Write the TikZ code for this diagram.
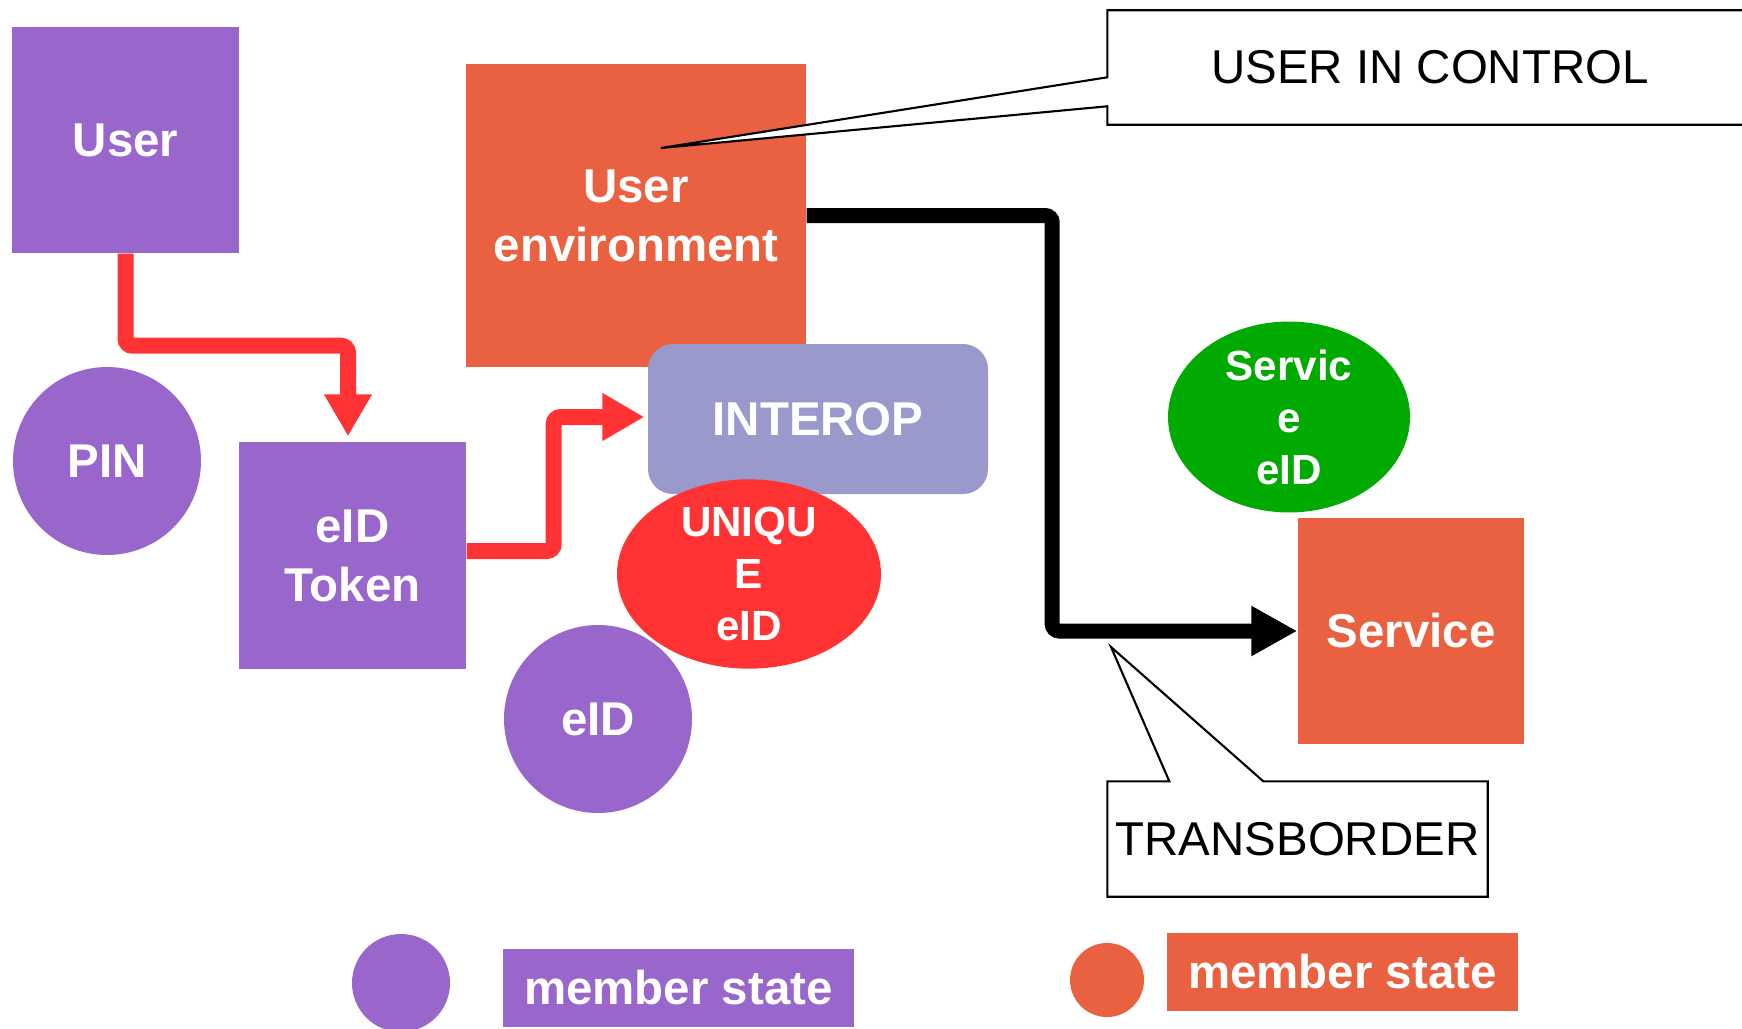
\documentclass[tikz,border=0pt]{standalone}
\usepackage{fontspec}
\setmainfont{Liberation Sans}
\usetikzlibrary{arrows.meta,shapes.geometric,calc}

\definecolor{msPurple}{RGB}{153,102,204}
\definecolor{msOrange}{RGB}{233,97,64}
\definecolor{msLavender}{RGB}{153,153,204}
\definecolor{msRed}{RGB}{255,51,51}
\definecolor{msGreen}{RGB}{0,170,0}

\begin{document}
\begin{tikzpicture}[
    blockbox/.style={rectangle, inner sep=0pt, text=white, align=center,
      font=\fontsize{13.5}{16.8}\selectfont\bfseries},
    roundbox/.style={circle, inner sep=0pt, text=white, align=center,
      font=\fontsize{13.5}{16.8}\selectfont\bfseries},
    ovalbox/.style={ellipse, inner sep=0pt, text=white, align=center,
      font=\fontsize{12}{14.8}\selectfont\bfseries},
    calloutbox/.style={rectangle, inner sep=0pt, align=center,
      font=\fontsize{13.5}{16.8}\selectfont},
    calloutline/.style={draw=black, fill=white, line width=0.6pt},
    redflow/.style={draw=msRed, line width=0.16cm, rounded corners=2pt,
      -{Triangle[length=0.42cm, width=0.45cm]}},
    blackflow/.style={draw=black, line width=0.15cm, rounded corners=2pt,
      -{Triangle[length=0.46cm, width=0.47cm]}}
  ]
    \useasboundingbox (0,0) rectangle (17.42,-10.28);

    % Main blocks
    \node[blockbox, fill=msPurple, minimum width=2.27cm, minimum height=2.26cm] (user) at (1.255,-1.40) {User};
    \node[blockbox, fill=msOrange, minimum width=3.40cm, minimum height=3.03cm] (userenv) at (6.36,-2.155) {User\\environment};
    \node[blockbox, fill=msLavender, rounded corners=0.25cm, minimum width=3.40cm, minimum height=1.50cm] (interop) at (8.18,-4.19) {INTEROP};
    \node[ovalbox, fill=msRed, minimum width=2.64cm, minimum height=1.88cm] (unique) at (7.49,-5.74) {UNIQU\\E\\eID};
    \node[roundbox, fill=msPurple, minimum size=1.88cm] (pin) at (1.07,-4.61) {PIN};
    \node[blockbox, fill=msPurple, minimum width=2.27cm, minimum height=2.27cm] (token) at (3.525,-5.555) {eID\\Token};
    \node[roundbox, fill=msPurple, minimum size=1.88cm] (eid) at (5.98,-7.19) {eID};
    \node[ovalbox, fill=msGreen, minimum width=2.42cm, minimum height=1.88cm] (serviceeid) at (12.89,-4.17) {Servic\\e\\eID};
    \node[blockbox, fill=msOrange, minimum width=2.26cm, minimum height=2.26cm] (service) at (14.11,-6.31) {Service};

    % Red flows
    \draw[redflow] (user.south) -- ++(0,-0.92) -| ([xshift=-0.045cm, yshift=0.05cm]token.north);
    \draw[redflow] ([yshift=0.045cm]token.east) -- ++(0.87,0) |- ([xshift=-0.03cm, yshift=0.02cm]interop.west);

    % Black flow to the service
    \draw[blackflow] (userenv.east) -- ++(2.455,0) |- (service.west);

    % Callout: user in control
    \node[calloutbox, minimum width=6.44cm, minimum height=1.13cm] (uic) at (14.30,-0.675) {};
    \coordinate (uictip) at (6.61,-1.48);
    \filldraw[calloutline] (uic.north east) -- (uic.north west) -- ($(uic.north west)+(0,-0.67)$)
      -- (uictip) -- ($(uic.north west)+(0,-0.96)$) -- (uic.south west) -- (uic.south east);
    \node[calloutbox] (uictext) at (uic.center) {USER IN CONTROL};

    % Callout: transborder
    \node[calloutbox, minimum width=3.79cm, minimum height=1.14cm] (tb) at (12.975,-8.39) {};
    \coordinate (tbtip) at (11.11,-6.47);
    \filldraw[calloutline] (tb.north west) -- ($(tb.north west)+(0.62,0)$) -- (tbtip)
      -- ($(tb.north west)+(1.56,0)$) -- (tb.north east) -- (tb.south east) -- (tb.south west) -- cycle;
    \node[calloutbox] (tbtext) at (tb.center) {TRANSBORDER};

    % Legend
    \node[circle, fill=msPurple, minimum size=0.98cm, inner sep=0pt] (legpurple) at (4.01,-9.83) {};
    \node[blockbox, fill=msPurple, minimum width=3.51cm, minimum height=0.78cm] (legpurpletext) at (6.785,-9.88) {member state};
    \node[circle, fill=msOrange, minimum size=0.74cm, inner sep=0pt] (legorange) at (11.07,-9.80) {};
    \node[blockbox, fill=msOrange, minimum width=3.51cm, minimum height=0.78cm] (legorangetext) at (13.425,-9.72) {member state};
  \end{tikzpicture}
\end{document}
